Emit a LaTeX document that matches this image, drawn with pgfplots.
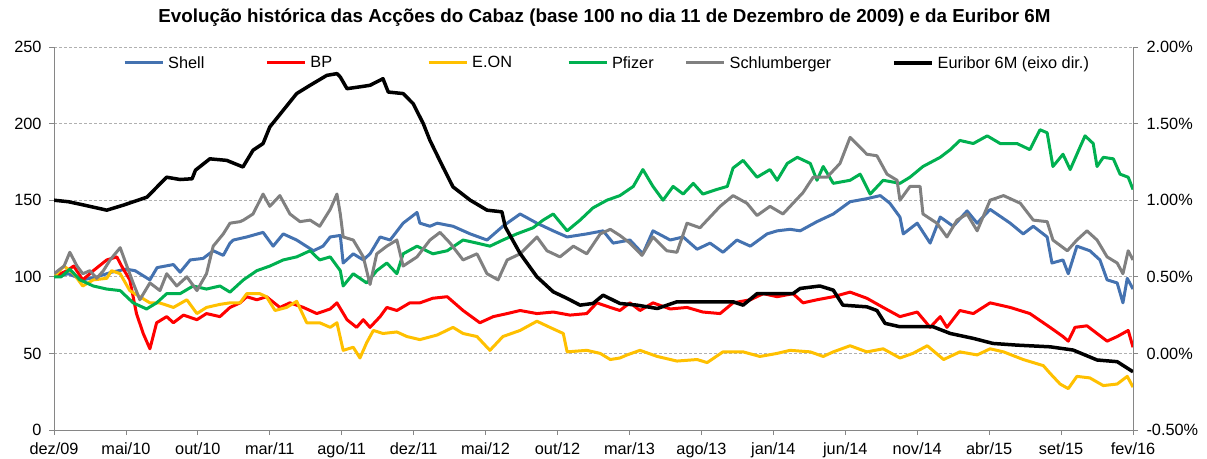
\documentclass[border=0pt]{standalone}
\usepackage{fontspec}
\setmainfont{Liberation Sans}
\usepackage{pgfplots}
\pgfplotsset{compat=1.18}
\definecolor{cShell}{RGB}{68,114,176}
\definecolor{cBP}{RGB}{255,0,0}
\definecolor{cEON}{RGB}{255,192,0}
\definecolor{cPfizer}{RGB}{0,176,80}
\definecolor{cSchl}{RGB}{128,128,128}
\definecolor{axgray}{RGB}{134,134,134}
\newcommand{\lbl}{\fontsize{16.3bp}{19bp}\selectfont}
\pgfplotsset{base/.style={scale only axis, width=1079bp, height=383bp,
  xmin=0, xmax=2250, tick align=outside, major tick length=5bp,
  axis line style={axgray, line width=0.8bp},
  tick style={axgray, line width=0.8bp},
  tick label style={font=\lbl, black},
  /pgf/number format/assume math mode=true}}
\begin{document}
\begin{tikzpicture}
\begin{axis}[base, name=main,
  ymin=0, ymax=250, ytick={0,50,...,250},
  axis x line*=bottom, axis y line*=left,
  xtick={0,150,...,2250},
  xticklabels={dez/09,mai/10,out/10,mar/11,ago/11,dez/11,mai/12,out/12,mar/13,ago/13,jan/14,jun/14,nov/14,abr/15,set/15,fev/16},
  xticklabel style={yshift=-4bp},
  yticklabel style={xshift=-4bp},
  ymajorgrids, major grid style={axgray!65, line width=0.6bp, dash pattern=on 3bp off 2bp},
  title={Evolução histórica das Acções do Cabaz (base 100 no dia 11 de Dezembro de 2009) e da Euribor 6M},
  title style={font=\fontsize{18.8bp}{22bp}\selectfont\bfseries, anchor=base, at={(axis description cs:0.5,1)}, yshift=19bp, xshift=11bp},
  every axis plot/.append style={line width=3bp, line join=round}]
\addplot[cShell] coordinates {(0,100) (30,102) (60,98) (90,100) (120,103) (150,105) (169,104) (200,98) (215,106) (249,108) (263,103) (284,111) (311,112) (332,117) (353,114) (367,122) (374,124) (402,126) (436,129) (457,120) (478,128) (506,124) (541,117) (561,120) (576,126) (597,127) (603,109) (624,115) (645,111) (659,115) (680,126) (701,124) (728,135) (757,142) (763,135) (784,133) (799,135) (832,133) (868,128) (903,124) (936,133) (972,141) (1007,135) (1041,130) (1070,126) (1111,128) (1145,130) (1166,122) (1201,124) (1228,115) (1249,130) (1285,124) (1312,126) (1341,118) (1368,122) (1395,116) (1424,124) (1452,120) (1487,128) (1508,130) (1535,131) (1556,130) (1591,136) (1625,141) (1660,149) (1695,151) (1723,153) (1743,148) (1764,139) (1771,128) (1800,135) (1827,122) (1848,139) (1875,133) (1904,143) (1925,135) (1952,144) (1994,135) (2021,128) (2042,133) (2071,126) (2081,109) (2104,111) (2115,102) (2133,120) (2160,117) (2181,111) (2196,98) (2217,96) (2229,83) (2238,99) (2250,92)};
\addplot[cBP] coordinates {(0,100) (27,104) (41,107) (60,98) (82,104) (110,111) (131,113) (141,107) (158,98) (172,76) (186,63) (200,53) (214,70) (235,74) (249,70) (270,75) (298,72) (318,76) (346,74) (367,80) (388,83) (402,87) (423,85) (443,87) (471,80) (492,83) (520,80) (548,76) (576,79) (590,83) (611,72) (631,67) (645,72) (659,67) (680,74) (694,80) (715,78) (742,83) (763,83) (790,86) (820,87) (853,78) (888,70) (916,74) (945,76) (972,78) (1007,76) (1041,77) (1076,75) (1111,76) (1132,83) (1160,80) (1180,78) (1201,83) (1222,78) (1249,83) (1285,79) (1320,80) (1353,77) (1389,76) (1416,83) (1452,85) (1479,89) (1508,87) (1541,89) (1562,83) (1591,85) (1625,87) (1660,90) (1695,86) (1729,80) (1764,74) (1800,77) (1827,67) (1848,74) (1862,67) (1889,78) (1917,76) (1952,83) (1994,80) (2035,76) (2077,67) (2104,61) (2115,58) (2129,67) (2154,68) (2175,63) (2196,58) (2217,61) (2240,65) (2250,54)};
\addplot[cEON] coordinates {(0,100) (21,107) (41,102) (60,94) (82,98) (110,99) (120,104) (138,102) (158,91) (179,87) (200,83) (220,83) (249,80) (277,85) (298,76) (318,80) (346,82) (367,83) (388,83) (402,89) (429,89) (443,87) (461,78) (485,80) (506,84) (527,70) (554,70) (576,67) (590,70) (603,52) (624,54) (638,47) (652,57) (666,65) (686,63) (715,64) (736,61) (763,59) (799,62) (832,67) (853,63) (882,61) (909,52) (936,61) (972,65) (1007,71) (1034,67) (1062,63) (1070,51) (1111,52) (1139,50) (1160,46) (1180,47) (1195,49) (1222,52) (1258,48) (1299,45) (1341,46) (1362,44) (1395,51) (1437,51) (1472,48) (1508,50) (1535,52) (1577,51) (1604,48) (1625,51) (1660,55) (1695,51) (1729,53) (1764,47) (1791,50) (1821,55) (1855,46) (1889,51) (1925,49) (1952,53) (1980,51) (2021,46) (2063,42) (2077,37) (2098,30) (2115,27) (2133,35) (2160,34) (2188,29) (2217,30) (2238,35) (2250,28)};
\addplot[cPfizer] coordinates {(0,100) (15,100) (33,105) (54,98) (82,94) (110,92) (138,91) (165,83) (193,79) (214,83) (235,89) (263,89) (290,94) (318,92) (346,94) (367,90) (395,98) (423,104) (450,107) (478,111) (506,113) (534,117) (554,111) (576,113) (597,104) (603,94) (624,102) (652,96) (673,104) (694,109) (715,102) (728,115) (757,120) (790,115) (820,117) (853,124) (882,122) (909,120) (936,124) (965,128) (999,132) (1020,137) (1041,141) (1070,130) (1097,137) (1124,145) (1153,150) (1180,153) (1208,159) (1228,170) (1249,159) (1270,150) (1291,159) (1312,154) (1333,161) (1353,154) (1382,157) (1404,159) (1416,171) (1437,176) (1466,165) (1493,170) (1508,163) (1529,174) (1550,178) (1577,174) (1591,163) (1604,172) (1625,161) (1660,163) (1681,167) (1702,154) (1729,163) (1764,161) (1785,165) (1812,172) (1848,178) (1869,183) (1889,189) (1917,187) (1946,192) (1973,187) (2008,187) (2035,183) (2056,196) (2071,194) (2083,172) (2104,180) (2119,170) (2140,185) (2150,192) (2167,187) (2175,172) (2188,178) (2209,177) (2223,167) (2240,165) (2250,157)};
\addplot[cSchl] coordinates {(0,102) (21,107) (33,116) (48,107) (60,102) (75,104) (89,99) (103,104) (117,111) (138,119) (152,107) (165,96) (179,85) (200,96) (221,91) (235,102) (256,94) (277,100) (298,91) (318,102) (332,120) (353,128) (367,135) (388,136) (395,137) (415,141) (436,154) (450,146) (471,153) (492,141) (513,136) (534,137) (554,133) (576,144) (590,154) (597,141) (603,126) (624,124) (645,113) (659,95) (673,115) (694,120) (715,124) (728,107) (757,113) (784,124) (805,129) (826,122) (853,111) (882,115) (903,102) (926,98) (945,111) (972,115) (1007,126) (1028,117) (1055,113) (1083,120) (1111,115) (1139,128) (1160,131) (1180,127) (1201,122) (1226,114) (1249,126) (1278,117) (1299,116) (1320,135) (1347,132) (1368,139) (1389,146) (1416,153) (1445,148) (1466,140) (1493,146) (1520,141) (1541,148) (1562,155) (1583,165) (1612,165) (1639,174) (1660,191) (1695,180) (1716,179) (1737,167) (1758,163) (1764,150) (1785,159) (1806,159) (1812,141) (1841,135) (1862,126) (1883,137) (1904,141) (1925,130) (1952,150) (1980,153) (2015,148) (2042,137) (2071,136) (2083,124) (2113,117) (2133,124) (2154,130) (2175,124) (2196,113) (2217,109) (2229,102) (2240,117) (2250,111)};
\end{axis}
\begin{axis}[base,
  ymin=-0.5, ymax=2, ytick={-0.5,0,...,2},
  axis y line*=right, axis x line=none,
  yticklabel={\pgfmathprintnumber[fixed,fixed zerofill,precision=2]{\tick}\%},
  yticklabel style={xshift=5bp},
  legend columns=6,
  legend image code/.code={\draw[#1] (0bp,0bp) -- (38bp,0bp);},
  legend style={draw=none, fill=none, font=\lbl, anchor=north west,
    at={(axis description cs:0,1)}, xshift=69bp, yshift=-8bp, inner sep=0pt,
    nodes={inner xsep=0pt, inner ysep=1bp},
    /tikz/every odd column/.style={column sep=4bp},
    /tikz/column 2/.style={column sep=61bp},
    /tikz/column 4/.style={column sep=95bp},
    /tikz/column 6/.style={column sep=55bp},
    /tikz/column 8/.style={column sep=31bp},
    /tikz/column 10/.style={column sep=61bp}},
  legend cell align=left]
\addlegendimage{cShell, line width=3bp}\addlegendentry{Shell}
\addlegendimage{cBP, line width=3bp}\addlegendentry{BP}
\addlegendimage{cEON, line width=3bp}\addlegendentry{E.ON}
\addlegendimage{cPfizer, line width=3bp}\addlegendentry{Pfizer}
\addlegendimage{cSchl, line width=3bp}\addlegendentry{Schlumberger}
\addplot[black, line width=3.5bp, line join=round] coordinates {(0,1.00) (30,0.99) (60,0.97) (110,0.935) (144,0.967) (194,1.02) (215,1.087) (235,1.15) (263,1.135) (288,1.14) (295,1.196) (325,1.27) (360,1.26) (394,1.217) (415,1.326) (436,1.37) (450,1.478) (478,1.587) (506,1.696) (534,1.75) (569,1.815) (590,1.826) (597,1.804) (611,1.728) (638,1.74) (659,1.75) (686,1.793) (697,1.706) (728,1.696) (749,1.63) (770,1.50) (784,1.39) (811,1.217) (832,1.087) (868,1.00) (903,0.935) (934,0.924) (941,0.826) (972,0.652) (1007,0.50) (1041,0.402) (1070,0.359) (1097,0.315) (1124,0.326) (1145,0.38) (1180,0.326) (1216,0.315) (1258,0.293) (1299,0.337) (1368,0.337) (1416,0.337) (1437,0.315) (1466,0.39) (1508,0.39) (1541,0.39) (1556,0.424) (1597,0.44) (1625,0.413) (1645,0.315) (1695,0.304) (1716,0.28) (1733,0.196) (1764,0.174) (1833,0.174) (1869,0.13) (1917,0.098) (1958,0.065) (2008,0.054) (2077,0.043) (2125,0.022) (2175,-0.043) (2217,-0.054) (2250,-0.12)};
\addlegendentry{Euribor 6M (eixo dir.)}
\end{axis}
\pgfresetboundingbox
\path (main.south west) ++(-54bp,-29bp) rectangle ++(1207bp,459bp);
\end{tikzpicture}
\end{document}
